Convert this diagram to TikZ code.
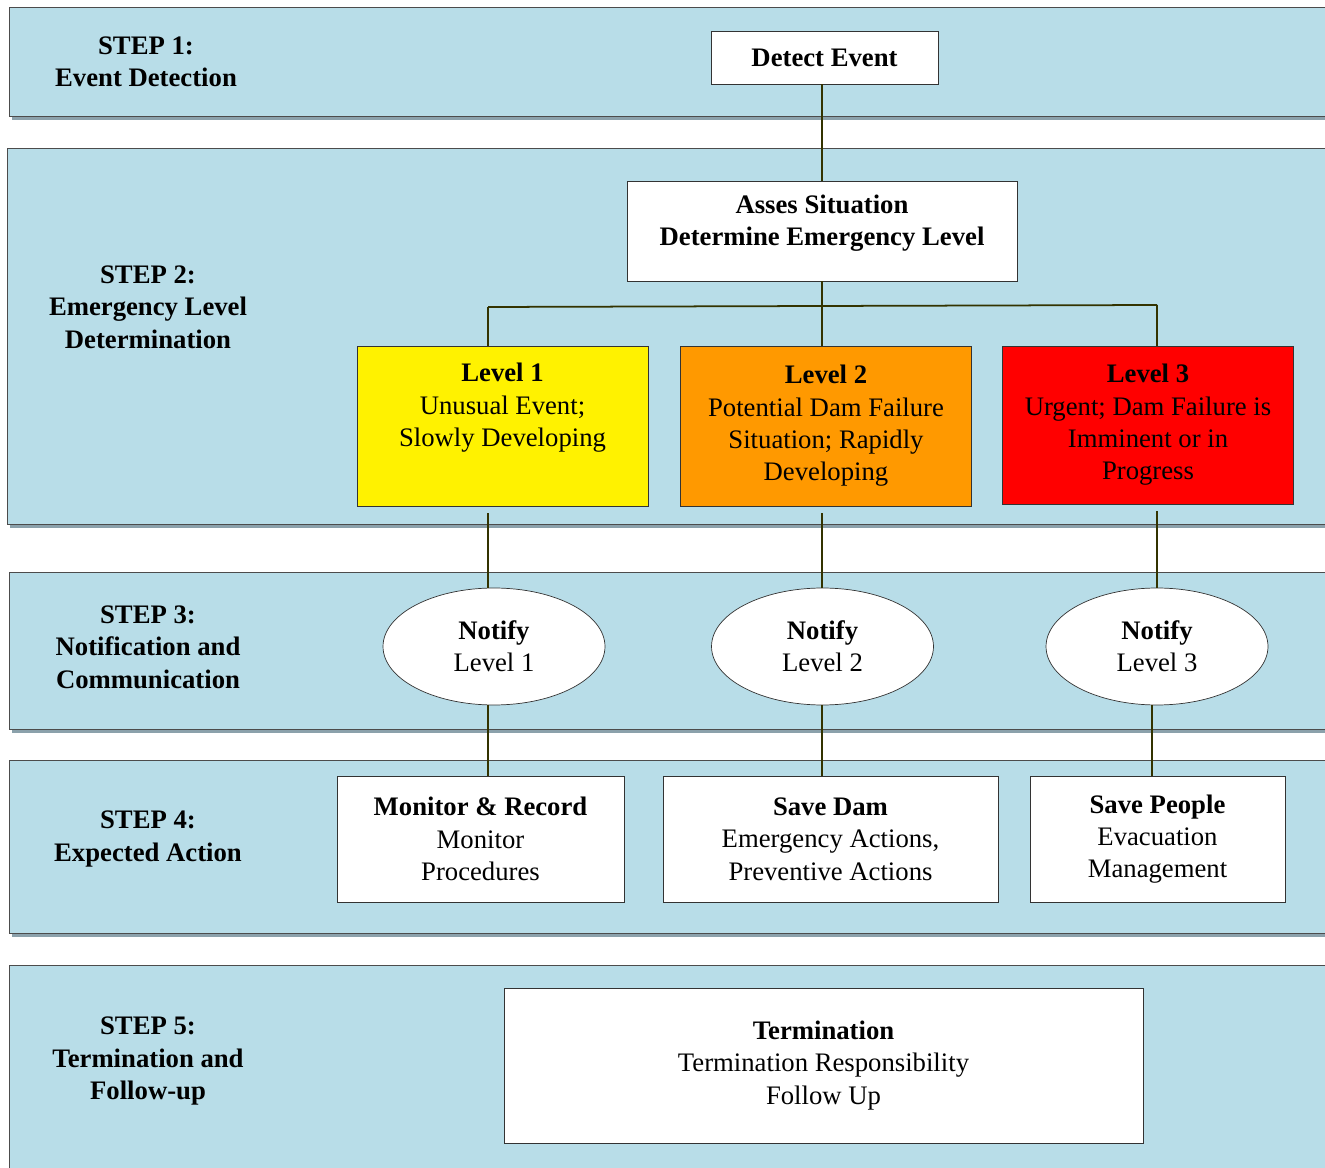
\documentclass[tikz,border=0pt]{standalone}
\usepackage{fontspec}
\setmainfont{Liberation Serif}
\usepackage{tikz}
\usetikzlibrary{shapes.geometric, arrows}
\usetikzlibrary{positioning,calc}
\definecolor{bandblue}{HTML}{B8DDE8}
\definecolor{bandshadow}{HTML}{8BA1AB}
\definecolor{linkolive}{HTML}{333300}
\definecolor{lvlorange}{HTML}{FF9900}
\newcommand{\diagfont}{\fontsize{15.2pt}{18.4pt}\selectfont}
\tikzstyle{band} = [draw=black!70, fill=bandblue]
\tikzstyle{shade} = [fill=bandshadow]
\tikzstyle{stage} = [align=center, font=\diagfont\bfseries]
\tikzstyle{process} = [rectangle, text centered, align=center, inner sep=0pt, draw=black!80, fill=white]
\tikzstyle{notify} = [ellipse, align=center, inner sep=0pt, minimum width=4.44cm, minimum height=2.34cm, draw=black!80, fill=white]
\tikzset{level/.style={process, minimum width=5.82cm, minimum height=3.2cm},
         action/.style={process, minimum height=2.52cm},
         link/.style={draw=linkolive, line width=1pt}
}

\begin{document}
\begin{tikzpicture}[x=0.02cm,y=-0.02cm,font=\diagfont]
\useasboundingbox (0,0) rectangle (1325,1168);
\clip (0,0) rectangle (1325,1168);
% bands
\fill[shade] (12,10) rectangle (1340,120);
\draw[band] (9,7) rectangle (1340,116);
\fill[shade] (10,151) rectangle (1340,528);
\draw[band] (7,148) rectangle (1340,524);
\fill[shade] (12,575) rectangle (1340,733);
\draw[band] (9,572) rectangle (1340,729);
\fill[shade] (12,763) rectangle (1340,937);
\draw[band] (9,760) rectangle (1340,933);
\draw[band] (9,965) rectangle (1340,1180);

% step titles
\node (s1) [stage] at (146,62) {STEP 1:\\Event Detection};
\node (s2) [stage] at (148,307) {STEP 2:\\Emergency Level\\Determination};
\node (s3) [stage] at (148,647) {STEP 3:\\Notification and\\Communication};
\node (s4) [stage] at (148,839) {STEP 4:\\Expected Action};
\node (s5) [stage] at (148,1061) {STEP 5:\\Termination and\\Follow-up};

% flow
\node (detect) [process, minimum width=4.54cm, minimum height=1.06cm] at (824.5,57.5) {\textbf{Detect Event}};
\node (assess) [process, minimum width=7.8cm, minimum height=2cm] at (822,231) {\textbf{Asses Situation}\\\textbf{Determine Emergency Level}\\[-6pt]\mbox{}};
\node (lv1) [level, fill=yellow] at (502.5,426) {\textbf{Level 1}\\Unusual Event;\\Slowly Developing\\\strut};
\node (lv2) [level, fill=lvlorange] at (826,426) {\textbf{Level 2}\\Potential Dam Failure\\Situation; Rapidly\\Developing};
\node (lv3) [level, fill=red, minimum height=3.16cm] at (1148,425) {\textbf{Level 3}\\Urgent; Dam Failure is\\Imminent or in\\Progress};
\node (ntf1) [notify] at (494,646.5) {\textbf{Notify}\\Level 1};
\node (ntf2) [notify] at (822.5,646.5) {\textbf{Notify}\\Level 2};
\node (ntf3) [notify] at (1157,646.5) {\textbf{Notify}\\Level 3};
\node (act1) [action, minimum width=5.74cm] at (480.5,839) {\textbf{Monitor \& Record}\\Monitor\\Procedures};
\node (act2) [action, minimum width=6.7cm] at (830.5,839) {\textbf{Save Dam}\\Emergency Actions,\\Preventive Actions};
\node (act3) [action, minimum width=5.1cm] at (1157.5,839) {\textbf{Save People}\\Evacuation\\Management};
\node (term) [process, minimum width=12.78cm, minimum height=3.1cm] at (823.5,1065.5) {\textbf{Termination}\\Termination Responsibility\\Follow Up};

\coordinate (bar) at (822,306);
\coordinate (j1) at (488,307);
\coordinate (j3) at (1157,305);

\draw[link] (assess.north |- detect.south) -- (assess.north);
\draw[link] (assess.south) -- (bar);
\draw[link] (j1) -- (bar) -- (j3);
\draw[link] (j1) -- (j1 |- lv1.north);
\draw[link] (bar) -- (bar |- lv2.north);
\draw[link] (j3) -- (j3 |- lv3.north);
\draw[link] ([yshift=-4pt]j1 |- lv1.south) -- (j1 |- ntf1.north);
\draw[link] ([yshift=-4pt]bar |- lv2.south) -- (bar |- ntf2.north);
\draw[link] ([yshift=-4pt]j3 |- lv3.south) -- (j3 |- ntf3.north);
\draw[link] (j1 |- ntf1.south) -- (j1 |- act1.north);
\draw[link] (bar |- ntf2.south) -- (bar |- act2.north);
\draw[link] ([xshift=-3]ntf3.south) -- ([xshift=-3]ntf3.south |- act3.north);
\end{tikzpicture}
\end{document}
